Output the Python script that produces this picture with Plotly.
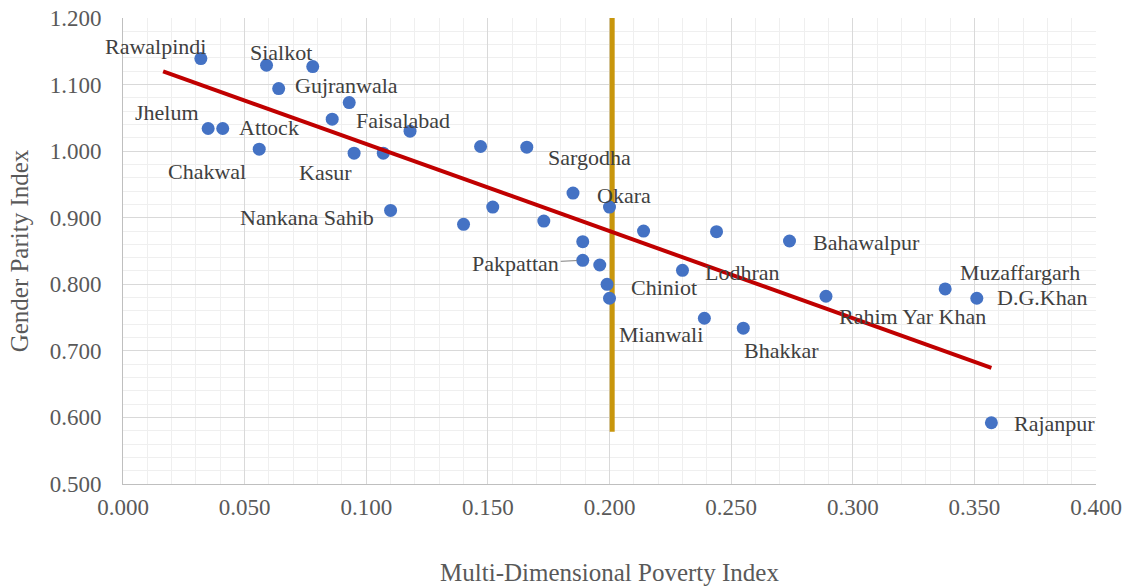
import plotly.graph_objects as go

# Multi-Dimensional Poverty Index (x) and Gender Parity Index (y) per district
mpi = [0.032, 0.059, 0.078, 0.064, 0.093, 0.086, 0.118, 0.035, 0.041, 0.056,
       0.095, 0.107, 0.110, 0.147, 0.166, 0.185, 0.200, 0.152, 0.140, 0.173,
       0.214, 0.244, 0.274, 0.189, 0.189, 0.196, 0.230, 0.199, 0.200, 0.239,
       0.255, 0.289, 0.338, 0.351, 0.357]
gpi = [1.139, 1.129, 1.127, 1.094, 1.073, 1.048, 1.030, 1.034, 1.034, 1.003,
       0.997, 0.997, 0.911, 1.007, 1.006, 0.937, 0.916, 0.916, 0.890, 0.895,
       0.880, 0.879, 0.865, 0.864, 0.836, 0.829, 0.821, 0.800, 0.779, 0.749,
       0.734, 0.782, 0.793, 0.779, 0.592]
names = ["Rawalpindi", "Sialkot", "", "Gujranwala", "", "", "Faisalabad", "Jhelum", "Attock", "Chakwal",
         "Kasur", "", "Nankana Sahib", "", "Sargodha", "Okara", "", "", "", "",
         "", "", "Bahawalpur", "", "Pakpattan", "", "Lodhran", "Chiniot", "", "Mianwali",
         "Bhakkar", "Rahim Yar Khan", "Muzaffargarh", "D.G.Khan", "Rajanpur"]
# label placement relative to the point: (xanchor, xshift px, yshift px)
label_pos = {
    "Rawalpindi": ("right", 7, 12), "Sialkot": ("center", 14, 13), "Gujranwala": ("left", 14, 3),
    "Faisalabad": ("left", -56, 11), "Jhelum": ("right", -7, 16), "Attock": ("left", 14, 1),
    "Chakwal": ("right", -11, -22), "Kasur": ("right", 0, -19), "Nankana Sahib": ("right", -15, -7),
    "Sargodha": ("left", 19, -10), "Okara": ("left", 22, -2), "Bahawalpur": ("left", 21, -1),
    "Lodhran": ("left", 21, -2), "Chiniot": ("left", 22, -3), "Mianwali": ("left", -87, -16),
    "Bhakkar": ("left", -1, -22), "Rahim Yar Khan": ("left", 11, -20), "Muzaffargarh": ("left", 13, 16),
    "D.G.Khan": ("left", 18, 1), "Rajanpur": ("left", 21, -1),
}
# trend line endpoints and the 0.200 reference line
trend_x = [0.0165, 0.357]
trend_y = [1.120, 0.6745]
ref_x = [0.2011, 0.2011]
ref_y = [0.5786, 1.200]

x_ticks = [0.0, 0.05, 0.1, 0.15, 0.2, 0.25, 0.3, 0.35, 0.4]
y_ticks = [0.5, 0.6, 0.7, 0.8, 0.9, 1.0, 1.1, 1.2]

FONT = "Liberation Serif"
LABEL_SIZE = 22
fig = go.Figure()
fig.add_trace(go.Scatter(x=ref_x, y=ref_y, mode="lines",
                         line=dict(color="#C8960C", width=5), hoverinfo="skip"))
fig.add_trace(go.Scatter(x=mpi, y=gpi, mode="markers",
                         marker=dict(color="#4472C4", size=13), text=names))
fig.add_trace(go.Scatter(x=trend_x, y=trend_y, mode="lines",
                         line=dict(color="#C00000", width=4), hoverinfo="skip"))

annotations = []
for xv, yv, n in zip(mpi, gpi, names):
    if not n:
        continue
    if n == "Pakpattan":
        annotations.append(dict(x=xv, y=yv, text=n, showarrow=True, arrowhead=0,
                                arrowcolor="#7F7F7F", arrowwidth=1, ax=-67, ay=3,
                                standoff=6, font=dict(family=FONT, size=LABEL_SIZE, color="#404040")))
        continue
    xa, xs, ys = label_pos[n]
    annotations.append(dict(x=xv, y=yv, text=n, showarrow=False, xanchor=xa, yanchor="middle",
                            xshift=xs, yshift=ys,
                            font=dict(family=FONT, size=LABEL_SIZE, color="#404040")))

fig.update_layout(
    width=1125, height=586,
    margin=dict(l=123, r=29, t=18, b=102),
    paper_bgcolor="white", plot_bgcolor="white",
    showlegend=False,
    font=dict(family=FONT, size=20, color="#595959"),
    annotations=annotations,
    xaxis=dict(range=[0, 0.4], tickvals=x_ticks, ticktext=[f"{v:.3f}" for v in x_ticks],
               automargin=False, ticklabeloverflow="allow",
               showgrid=True, gridcolor="#D9D9D9", gridwidth=1,
               minor=dict(dtick=0.01, showgrid=True, gridcolor="#EFEFEF", gridwidth=1),
               showline=True, linecolor="#BFBFBF", linewidth=1, zeroline=False,
               ticks="", ticklabelstandoff=2,
               tickfont=dict(family=FONT, size=23, color="#595959"),
               title=dict(text="Multi-Dimensional Poverty Index", standoff=46,
                          font=dict(family=FONT, size=25, color="#595959"))),
    yaxis=dict(range=[0.5, 1.2], tickvals=y_ticks, ticktext=[f"{v:.3f}" for v in y_ticks],
               automargin=False, ticklabeloverflow="allow",
               showgrid=True, gridcolor="#D9D9D9", gridwidth=1,
               minor=dict(dtick=0.02, showgrid=True, gridcolor="#EFEFEF", gridwidth=1),
               showline=True, linecolor="#BFBFBF", linewidth=1, zeroline=False,
               ticks="", ticklabelstandoff=16,
               tickfont=dict(family=FONT, size=23, color="#595959"),
               title=dict(text="Gender Parity Index", standoff=13,
                          font=dict(family=FONT, size=25, color="#595959"))),
)
fig.write_html("out.html", config={"displayModeBar": False},
               post_script="document.body.style.margin='0';document.body.style.overflow='hidden';")
